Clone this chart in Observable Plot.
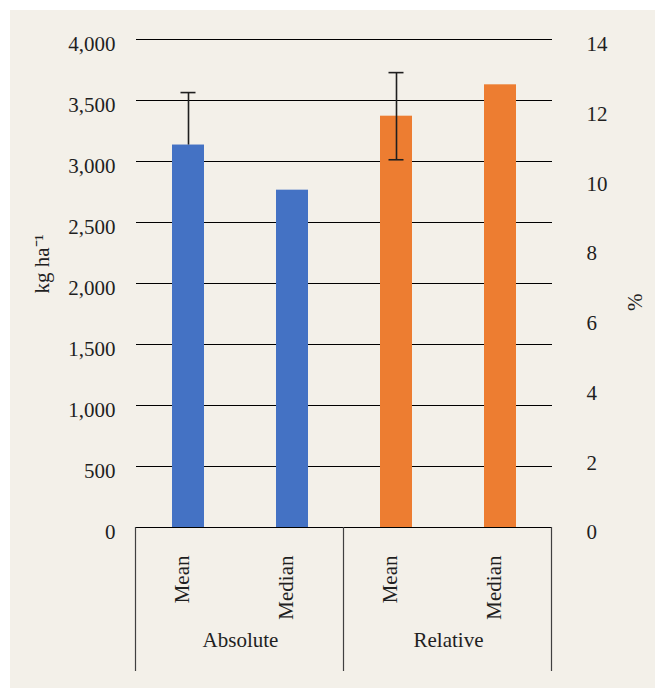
<!DOCTYPE html>
<html>
<head>
<meta charset="utf-8">
<script src="https://cdn.jsdelivr.net/npm/d3@7"></script>
<script src="https://cdn.jsdelivr.net/npm/@observablehq/plot@0.6"></script>
<style>
  html, body { margin: 0; padding: 0; background: #ffffff; }
  #wrap { position: relative; width: 655px; height: 688px; }
  #panel { position: absolute; left: 10px; top: 10px; right: 0; bottom: 0; background: #f3f0e9; }
  #chart { position: absolute; left: 0; top: 0; }
</style>
</head>
<body>
<div id="wrap"><div id="panel"></div><div id="chart"></div></div>
<script>
// Yield gap summary: absolute (kg ha⁻¹, left axis) and relative (%, right axis)
const groups = ["Absolute", "Relative"];
const stats = ["Mean", "Median"];
const absoluteValues = [3135, 2765];   // kg ha⁻¹
const relativeValues = [11.8, 12.7];   // %
// error bars on the mean of each group: [minus, plus]
const absoluteMeanError = [0, 430];
const relativeMeanError = [1.25, 1.25];
const leftTicks = [0, 500, 1000, 1500, 2000, 2500, 3000, 3500, 4000];
const rightTicks = [0, 2, 4, 6, 8, 10, 12, 14];
const leftMax = 4000;
const rightMax = 14;
const groupColors = ["#4472c4", "#ed7d31"];

// percent values are drawn on the kg scale, with the right axis relabelled
const k = leftMax / rightMax;

const rows = [
  ...stats.map((s, i) => ({group: "Absolute", stat: s, value: absoluteValues[i]})),
  ...stats.map((s, i) => ({group: "Relative", stat: s, value: relativeValues[i] * k}))
];
const errors = [
  {group: "Absolute", stat: "Mean",
   low: absoluteValues[0] - absoluteMeanError[0], high: absoluteValues[0] + absoluteMeanError[1]},
  {group: "Relative", stat: "Mean",
   low: (relativeValues[0] - relativeMeanError[0]) * k, high: (relativeValues[0] + relativeMeanError[1]) * k}
];

const font = "Liberation Serif, Times New Roman, serif";
const fs = 21;
const ink = "#1f1f1f";

const chart = Plot.plot({
  width: 655,
  height: 688,
  marginLeft: 136,
  marginRight: 103,
  marginTop: 39,
  marginBottom: 161,
  style: {fontFamily: font, fontSize: fs + "px", background: "transparent", overflow: "visible", color: ink},
  fx: {domain: groups, padding: 0, axis: null},
  x: {domain: stats, paddingInner: 0.69, paddingOuter: 0.345, axis: null},
  y: {domain: [0, leftMax], axis: null},
  color: {domain: groups, range: groupColors},
  marks: [
    Plot.ruleY(leftTicks, {y: d => d, stroke: "#000", strokeWidth: 1}),
    Plot.barY(rows, {fx: "group", x: "stat", y: "value", fill: "group"}),
    Plot.ruleX(errors, {fx: "group", x: "stat", y1: "low", y2: "high", stroke: ink, strokeWidth: 1.6}),
    Plot.tickY(errors, {fx: "group", x: "stat", y: "high", stroke: ink, strokeWidth: 1.6, insetLeft: 8.5, insetRight: 8.5}),
    Plot.tickY(errors.filter(d => d.group === "Relative"), {fx: "group", x: "stat", y: "low", stroke: ink, strokeWidth: 1.6, insetLeft: 8.5, insetRight: 8.5}),
    Plot.axisY({anchor: "left", ticks: leftTicks, tickFormat: d3.format(","), tickSize: 0, tickPadding: 21,
      dy: 5, label: null, fontSize: fs, fill: ink}),
    Plot.axisY({anchor: "right", ticks: rightTicks.map(v => v * k), tickFormat: d => String(Math.round(d / k)),
      tickSize: 0, tickPadding: 34, dy: 5, label: null, fontSize: fs, fill: ink}),
    // category labels under each bar
    Plot.text(rows, {fx: "group", x: "stat", text: "stat", frameAnchor: "bottom", rotate: -90,
      textAnchor: "end", dy: 28, fontSize: fs, fill: ink}),
    // group labels
    Plot.text(groups.map(g => ({group: g})), {fx: "group", text: "group", frameAnchor: "bottom",
      dy: 119, fontSize: fs, fill: ink}),
    // axis titles
    Plot.text([{group: "Absolute", t: "kg ha⁻¹"}], {fx: "group", text: "t", frameAnchor: "left",
      rotate: -90, dx: -94, dy: 10, fontSize: fs, fill: ink}),
    Plot.text([{group: "Relative", t: "%"}], {fx: "group", text: "t", frameAnchor: "right",
      rotate: -90, dx: 83, dy: 10, fontSize: fs, fill: ink})
  ]
});

// box lines separating the two category groups below the axis
const fx = chart.scale("fx");
const y = chart.scale("y");
const y0 = y.apply(0);
const boxDepth = 144;
const edges = [...groups.map(g => fx.apply(g)), fx.apply(groups[groups.length - 1]) + fx.bandwidth];
const svg = d3.select(chart);
svg.append("g")
  .attr("stroke", "#404040")
  .attr("stroke-width", 1.2)
  .selectAll("line")
  .data(edges)
  .join("line")
  .attr("x1", d => Math.round(d) - 0.5)
  .attr("x2", d => Math.round(d) - 0.5)
  .attr("y1", y0)
  .attr("y2", y0 + boxDepth);

document.getElementById("chart").appendChild(chart);
</script>
</body>
</html>
